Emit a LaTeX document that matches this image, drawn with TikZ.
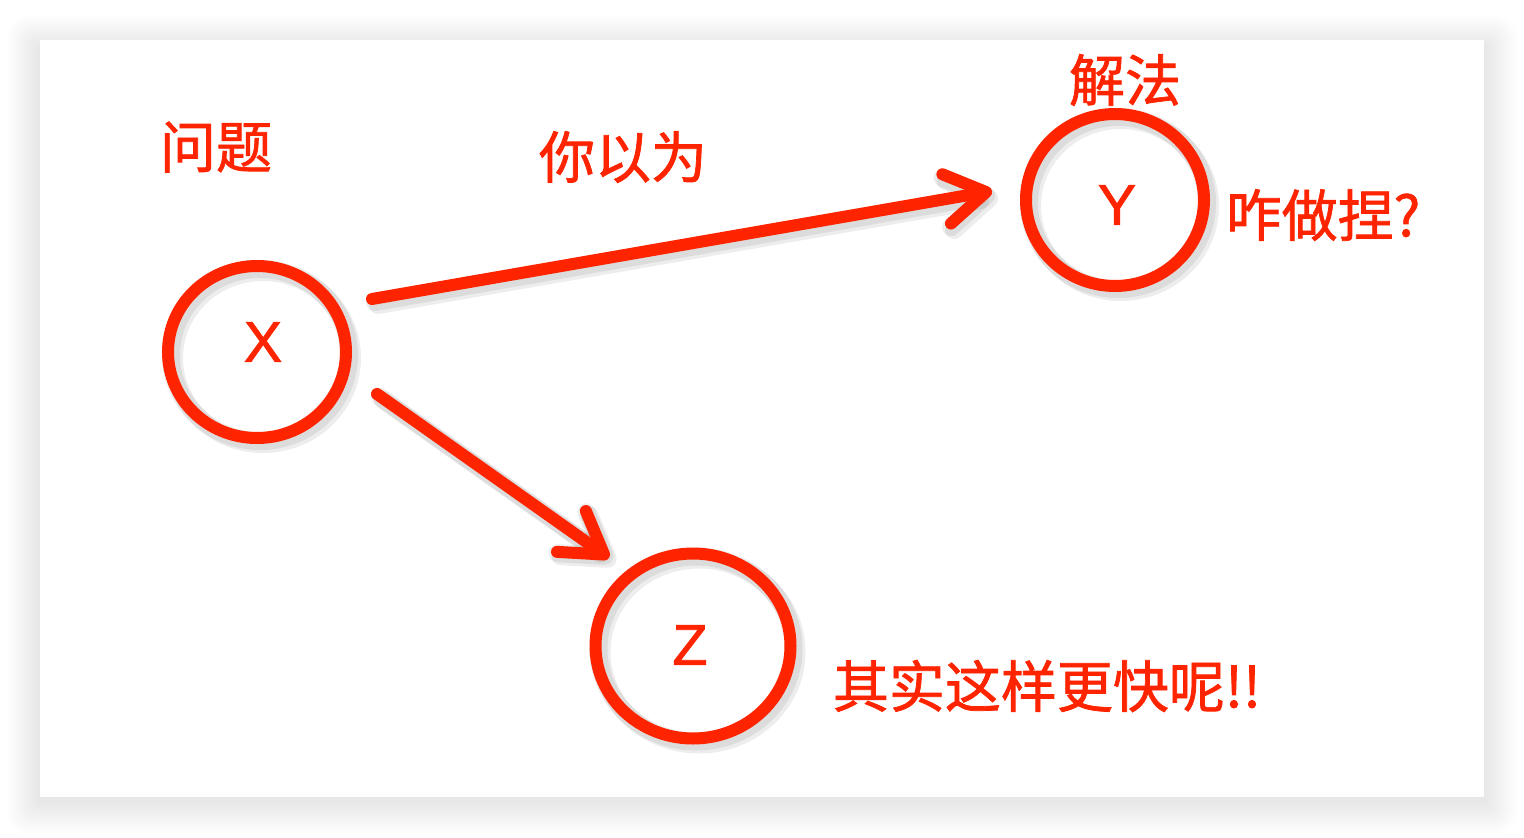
\documentclass[tikz,border=0pt]{standalone}
\usepackage{fontspec}
\newfontfamily\cjk[FakeBold=1.3]{Noto Sans CJK SC}
\newfontfamily\lat[FakeBold=1.5]{Liberation Sans}
\usetikzlibrary{shapes.geometric,arrows.meta,calc}
\definecolor{pen}{RGB}{255,36,0}
\tikzset{
  ring/.style={ellipse,draw=pen,line width=12pt,inner sep=0pt},
  ringshadow/.style={ellipse,draw=black,draw opacity=0.07,line width=18pt,inner sep=0pt},
  letter/.style={text=pen,font=\fontsize{57}{60}\selectfont\lat,inner sep=0pt},
  label/.style={text=pen,font=\fontsize{56}{60}\selectfont\cjk,inner sep=0pt},
  conn/.style={draw=pen,line width=12pt,line cap=round,line join=round,
    -{Straight Barb[length=40pt,width=50pt,round]}},
  connshadow/.style={draw=black,draw opacity=0.07,line width=18pt,line cap=round,line join=round,
    -{Straight Barb[length=40pt,width=50pt,round]}}
}
\begin{document}
\begin{tikzpicture}[x=1pt,y=-1pt]
\useasboundingbox (0,0) rectangle (1524,838);
\fill[white] (0,0) rectangle (1524,838);
% card shadow
\foreach \i in {1,...,24}{
  \fill[black,opacity=0.005,rounded corners=\i pt]
    ({40-1.4*\i},{48-1.4*\i}) rectangle ({1484+1.4*\i},{797+1.4*\i+4});
}
\fill[white] (40,40) rectangle (1484,797);

% shadows of strokes
\foreach \d in {3,6}{
\node[ringshadow,minimum width=178pt,minimum height=172pt] at (257+\d,352+\d) {};
\node[ringshadow,minimum width=178pt,minimum height=172pt] at (1115+\d,200+\d) {};
\node[ringshadow,minimum width=195pt,minimum height=185pt] at (693+\d,646+\d) {};
}

% nodes
\node[ring,minimum width=178pt,minimum height=172pt] (X) at (257,352) {};
\node[ring,minimum width=178pt,minimum height=172pt] (Y) at (1115,200) {};
\node[ring,minimum width=195pt,minimum height=185pt] (Z) at (693,646) {};
\node[letter] (xl) at (263,342) {X};
\node[letter] (yl) at (1117,205) {Y};
\node[letter] (zl) at (690,645) {Z};

% arrow end points
\coordinate (a1s) at (372,299);
\coordinate (a1e) at (992,191);
\coordinate (a2s) at (377,394);
\coordinate (a2e) at (609,558);
\foreach \d in {3,6}{
  \draw[connshadow] ($(a1s)+(\d,\d)$) -- ($(a1e)+(\d,\d)$);
  \draw[connshadow] ($(a2s)+(\d,\d)$) -- ($(a2e)+(\d,\d)$);
}
\draw[conn] (a1s) -- (a1e);
\draw[conn] (a2s) -- (a2e);

% labels
\node[label] (t1) at (216,147) {问题};
\node[label] (t2) at (623,157) {你以为};
\node[label] (t3) at (1125,80) {解法};
\node[label] (t4) at (1323,215) {咋做捏?};
\node[label] (t5) at (1047,686) {其实这样更快呢!!};
\end{tikzpicture}
\end{document}
